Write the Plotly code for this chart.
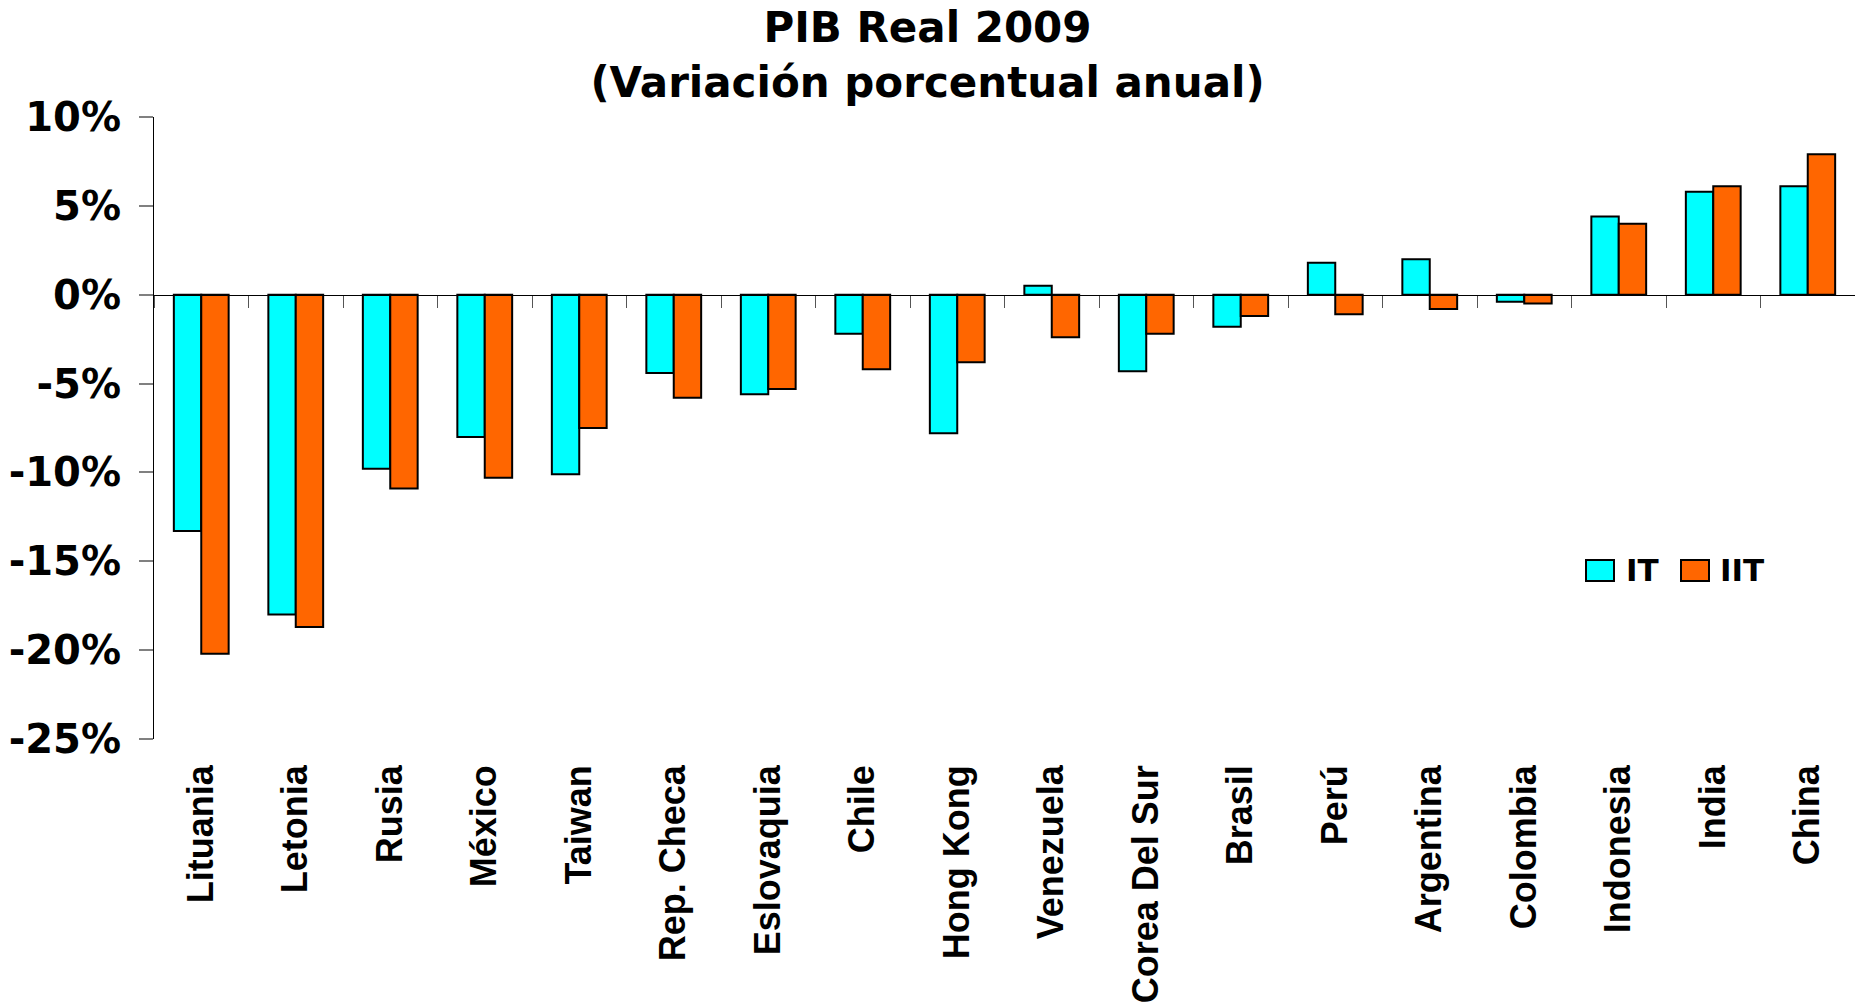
import plotly.graph_objects as go

categories = ["Lituania", "Letonia", "Rusia", "México", "Taiwan", "Rep. Checa",
              "Eslovaquia", "Chile", "Hong Kong", "Venezuela", "Corea Del Sur",
              "Brasil", "Perú", "Argentina", "Colombia", "Indonesia", "India", "China"]
it_vals = [-13.3, -18.0, -9.8, -8.0, -10.1, -4.4, -5.6, -2.2, -7.8, 0.5, -4.3,
           -1.8, 1.8, 2.0, -0.4, 4.4, 5.8, 6.1]
iit_vals = [-20.2, -18.7, -10.9, -10.3, -7.5, -5.8, -5.3, -4.2, -3.8, -2.4, -2.2,
            -1.2, -1.1, -0.8, -0.5, 4.0, 6.1, 7.9]
y_ticks = [10, 5, 0, -5, -10, -15, -20, -25]
y_ticktext = [f"{v}%" for v in y_ticks]
series_names = ["IT", "IIT"]
colors = ["#00FFFF", "#FF6600"]

fig = go.Figure()
for name, vals, col in zip(series_names, [it_vals, iit_vals], colors):
    fig.add_trace(go.Bar(x=categories, y=vals, name=name, marker_color=col,
                         marker_line_color="black", marker_line_width=2,
                         showlegend=False))

# helper trace for the category tick marks drawn on the zero line
fig.add_trace(go.Scatter(x=categories, y=[0] * len(categories), xaxis="x2",
                         mode="markers", marker_opacity=0, hoverinfo="skip",
                         showlegend=False))

W, H = 1855, 1004
L, R, T, B = 154, 0, 117, 265

fig.update_layout(
    width=W, height=H,
    margin=dict(l=L, r=R, t=T, b=B, autoexpand=False),
    paper_bgcolor="white", plot_bgcolor="white",
    barmode="group", bargap=0.42, bargroupgap=0,
    title=dict(text="PIB Real 2009<br>(Variación porcentual anual)",
               x=0.5, xanchor="center", y=0.958, yanchor="top",
               yref="container",
               font=dict(family="DejaVu Sans", size=42, color="black", weight="bold")),
    xaxis=dict(type="category", range=[-0.5, len(categories) - 0.5],
               showline=False, ticks="", showgrid=False, zeroline=False,
               tickangle=-90, ticklabelstandoff=18,
               tickfont=dict(family="Liberation Sans", size=36, color="black", weight="bold")),
    xaxis2=dict(type="category", overlaying="x", anchor="free",
                position=25 / 35, range=[-0.5, len(categories) - 0.5],
                showline=True, linecolor="black", linewidth=1,
                ticks="outside", ticklen=12, tickwidth=1, tickcolor="#555555",
                tickson="boundaries", showticklabels=False, showgrid=False,
                side="bottom"),
    yaxis=dict(range=[-25, 10], tickvals=y_ticks, ticktext=y_ticktext,
               showline=True, linecolor="black", linewidth=1,
               ticks="outside", ticklen=14, tickwidth=1.5, tickcolor="#808080",
               showgrid=False, zeroline=False, ticklabelstandoff=10,
               tickfont=dict(family="DejaVu Sans", size=40, color="black", weight="bold")),
)

# legend drawn as annotations (swatch + label)
plot_w = W - L - R
plot_h = H - T - B
def px_x(px):
    return (px - L) / plot_w
def px_y(py):
    return (H - B - py) / plot_h

leg_y = px_y(570)
swatch_x = [px_x(1600), px_x(1695)]
label_x = [px_x(1624), px_x(1718)]
for name, col, sx, lx in zip(series_names, colors, swatch_x, label_x):
    fig.add_annotation(xref="paper", yref="paper", x=sx, y=leg_y, text=" ",
                       showarrow=False, width=26, height=19, bgcolor=col,
                       bordercolor="black", borderwidth=2, borderpad=0,
                       xanchor="center", yanchor="middle", font=dict(size=4))
    fig.add_annotation(xref="paper", yref="paper", x=lx, y=leg_y, text=name,
                       showarrow=False, xanchor="left", yanchor="middle",
                       font=dict(family="DejaVu Sans", size=31, color="black", weight="bold"))

fig.write_html("out.html", config={"displayModeBar": False},
               post_script="document.body.style.margin='0';")
